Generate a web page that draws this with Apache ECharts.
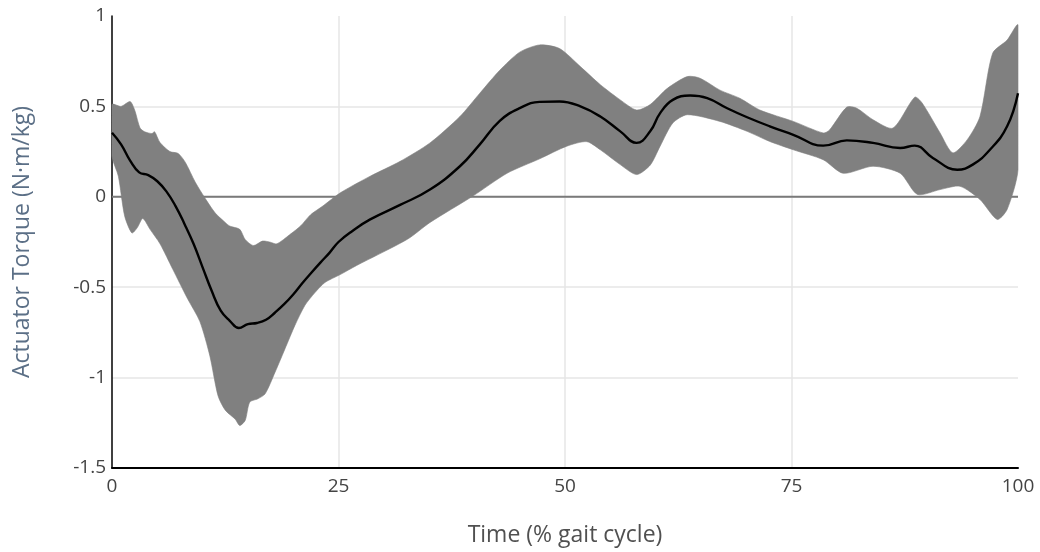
<!DOCTYPE html>
<html>
<head>
<meta charset="utf-8">
<script src="https://cdn.jsdelivr.net/npm/echarts@6/dist/echarts.min.js"></script>
<style>
  html, body { margin: 0; padding: 0; background: #ffffff; }
  #chart { width: 1040px; height: 552px; }
</style>
</head>
<body>
<div id="chart"></div>
<script>
// Mean actuator torque over the gait cycle: [time %, N·m/kg]
const meanCurve = [
  [0, 0.354], [1, 0.29], [2, 0.20], [3, 0.135], [4, 0.12], [5, 0.086], [6, 0.03],
  [7, -0.05], [8, -0.15], [9, -0.26], [10, -0.39], [11, -0.52],
  [12, -0.63], [13, -0.686], [14, -0.726], [15, -0.704], [16, -0.698], [17, -0.68],
  [18, -0.64], [19, -0.594], [20, -0.54], [21, -0.478], [22, -0.42], [23, -0.364],
  [24, -0.31], [25, -0.25], [26.5, -0.19], [28.5, -0.125], [31.8, -0.045],
  [35.1, 0.04], [38.4, 0.169], [40.6, 0.29], [42.8, 0.42], [45.0, 0.49],
  [47.2, 0.525], [49.4, 0.527], [51.7, 0.50], [53.9, 0.444], [56.1, 0.362],
  [57.9, 0.298], [59.4, 0.362], [60.5, 0.463], [61.9, 0.536], [63.8, 0.56],
  [65.7, 0.546], [67.9, 0.49], [70.1, 0.44], [72.6, 0.39], [75.2, 0.343],
  [78.5, 0.283], [81.1, 0.312], [84.0, 0.298], [87.0, 0.27], [88.6, 0.283],
  [90.6, 0.215], [93.3, 0.15], [95.0, 0.178], [96.9, 0.26], [98.8, 0.39], [100, 0.573]
];

// Upper edge of the spread band
const upperBound = [
  [0, 0.51], [1, 0.50], [2, 0.527], [2.5, 0.48], [3.1, 0.38], [3.6, 0.36],
  [4.4, 0.35], [4.7, 0.36], [5.3, 0.30], [6.4, 0.25], [7.3, 0.24], [8.1, 0.19],
  [9.2, 0.08], [10.3, -0.01], [11.4, -0.09], [12.5, -0.142], [13.0, -0.162],
  [14.1, -0.18], [14.7, -0.236], [15.6, -0.27], [16.6, -0.245], [17.4, -0.25],
  [18.2, -0.26], [19.6, -0.21], [20.8, -0.162], [21.9, -0.1], [23.3, -0.05],
  [25.2, 0.022], [28.5, 0.114], [31.8, 0.196], [35.1, 0.298], [38.4, 0.444],
  [40.6, 0.573], [42.8, 0.70], [45.0, 0.80], [47.2, 0.84], [49.4, 0.82],
  [51.7, 0.72], [53.9, 0.62], [56.1, 0.536], [57.9, 0.48], [59.4, 0.51],
  [61.3, 0.60], [63.5, 0.665], [64.9, 0.656], [67.1, 0.59], [69.3, 0.545],
  [71.5, 0.48], [75.2, 0.417], [78.5, 0.353], [79.2, 0.37], [81.1, 0.496],
  [82.2, 0.49], [84.0, 0.426], [86.2, 0.38], [88.6, 0.551], [89.4, 0.52],
  [91.4, 0.353], [92.8, 0.243], [94.4, 0.316], [95.8, 0.444], [97.2, 0.794],
  [98.8, 0.867], [100, 0.95]
];

// Lower edge of the spread band
const lowerBound = [
  [0, 0.224], [0.7, 0.114], [1.4, -0.107], [2.2, -0.2], [2.8, -0.17], [3.4, -0.12],
  [4.2, -0.18], [5.3, -0.26], [6.7, -0.40], [8.3, -0.56], [9.7, -0.69], [10.8, -0.88],
  [11.7, -1.10], [12.5, -1.18], [13.6, -1.23], [14.1, -1.265], [14.7, -1.237],
  [15.2, -1.136], [16.1, -1.117], [16.9, -1.09], [18.0, -0.97], [19.1, -0.84],
  [20.2, -0.71], [21.3, -0.60], [22.4, -0.53], [23.5, -0.474], [25.2, -0.43],
  [27.0, -0.38], [32.6, -0.235], [35.1, -0.142], [39.8, 0.003], [43.6, 0.13],
  [47.2, 0.21], [50.2, 0.28], [52.4, 0.305], [53.9, 0.26], [56.1, 0.178],
  [57.9, 0.123], [59.4, 0.175], [60.5, 0.28], [61.9, 0.408], [63.5, 0.454],
  [67.1, 0.417], [70.1, 0.362], [72.6, 0.306], [75.2, 0.26], [78.5, 0.205],
  [80.7, 0.13], [84.0, 0.169], [87.0, 0.13], [88.9, 0.013], [91.4, 0.04],
  [93.6, 0.058], [95.8, -0.015], [97.7, -0.125], [98.8, -0.07], [100, 0.15]
];

// Reference line at zero torque
const zeroLine = [[0, 0], [100, 0]];

const xTicks = { min: 0, max: 100, interval: 25 };
const yTicks = { min: -1.5, max: 1, interval: 0.5 };

const FONT = '"Open Sans", "Noto Sans", sans-serif';

const chart = echarts.init(document.getElementById('chart'), null, { renderer: 'canvas' });

chart.setOption({
  animation: false,
  backgroundColor: '#ffffff',
  grid: { left: 112, right: 22, top: 16, bottom: 83, containLabel: false },
  xAxis: {
    type: 'value',
    min: xTicks.min, max: xTicks.max, interval: xTicks.interval,
    name: 'Time (% gait cycle)',
    nameLocation: 'middle',
    nameGap: 56,
    nameTextStyle: { color: '#505050', fontSize: 23, fontFamily: FONT },
    axisLine: { show: true, onZero: false, lineStyle: { color: '#000000', width: 2 } },
    axisTick: { show: false },
    axisLabel: { color: '#444444', fontSize: 19, fontFamily: FONT, margin: 9 },
    splitLine: { show: true, showMinLine: false, showMaxLine: false,
                 lineStyle: { color: '#e6e6e6', width: 1.5 } }
  },
  yAxis: {
    type: 'value',
    min: yTicks.min, max: yTicks.max, interval: yTicks.interval,
    name: 'Actuator Torque (N·m/kg)',
    nameLocation: 'middle',
    nameGap: 78,
    nameTextStyle: { color: '#5b6f86', fontSize: 23, fontFamily: FONT },
    axisLine: { show: true, onZero: false, lineStyle: { color: '#000000', width: 1.5 } },
    axisTick: { show: false },
    axisLabel: { color: '#444444', fontSize: 19, fontFamily: FONT, margin: 6 },
    splitLine: { show: true, showMinLine: false, showMaxLine: false,
                 lineStyle: { color: '#e6e6e6', width: 1.5 } }
  },
  series: [
    {
      name: 'zero',
      type: 'line',
      data: zeroLine,
      symbol: 'none',
      silent: true,
      z: 1,
      lineStyle: { color: '#7a7a7a', width: 2 }
    },
    {
      name: 'spread',
      type: 'custom',
      coordinateSystem: 'cartesian2d',
      data: [[0, 0]],
      z: 2,
      silent: true,
      renderItem: function (params, api) {
        const pts = [];
        upperBound.forEach(p => pts.push(api.coord(p)));
        for (let i = lowerBound.length - 1; i >= 0; i--) pts.push(api.coord(lowerBound[i]));
        const cs = params.coordSys;
        // keep the smoothed outline inside the plotting rectangle
        const bounds = [[cs.x, cs.y], [cs.x + cs.width, cs.y + cs.height]];
        return {
          type: 'polygon',
          shape: { points: pts, smooth: 0.25, smoothConstraint: bounds },
          style: { fill: '#808080', stroke: '#808080', lineWidth: 0.6 }
        };
      }
    },
    {
      name: 'mean',
      type: 'line',
      data: meanCurve,
      symbol: 'none',
      smooth: 0.45,
      z: 3,
      lineStyle: { color: '#000000', width: 2.4 }
    }
  ]
});
</script>
</body>
</html>
